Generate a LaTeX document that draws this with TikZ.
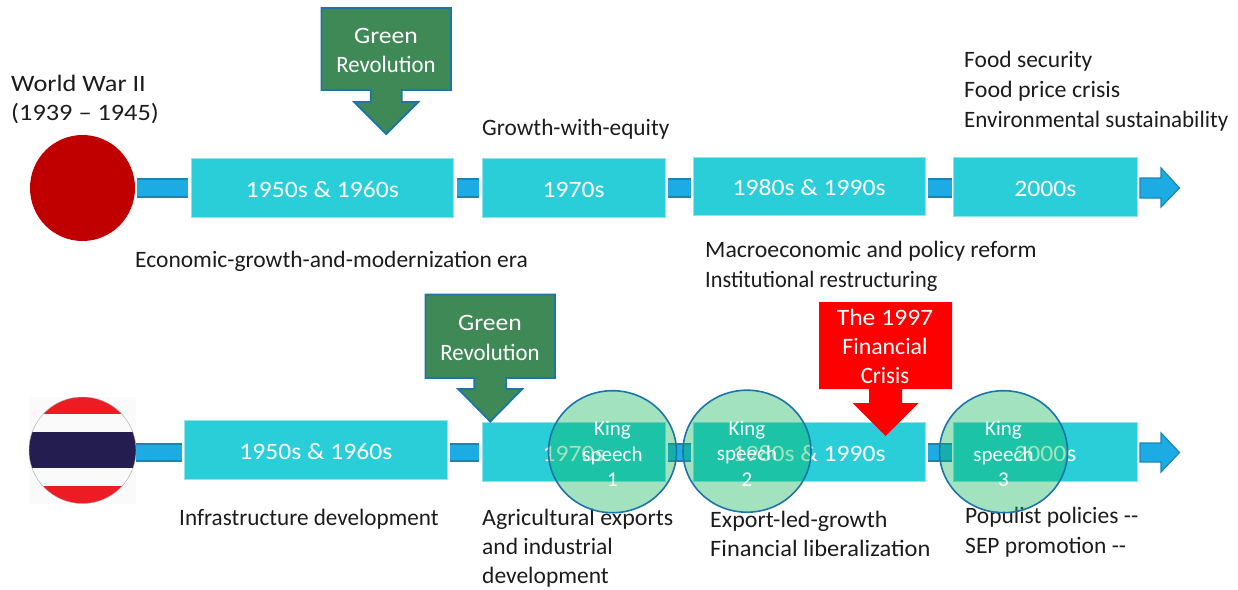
\documentclass[tikz,border=0pt]{standalone}
\usepackage{fontspec}
\usepackage{graphicx}
\setmainfont{Carlito}
\newfontfamily\yearfont[FakeStretch=1.09]{Carlito}
\newfontfamily\widefont[FakeStretch=1.12]{Carlito}
\usetikzlibrary{shapes.geometric}
\definecolor{barfill}{HTML}{1CACE3}
\definecolor{barline}{HTML}{1A85B5}
\definecolor{boxfill}{HTML}{29CED9}
\definecolor{boxedge}{HTML}{8FE6EA}
\definecolor{greenfill}{HTML}{3F8956}
\definecolor{calledge}{HTML}{1B75A8}
\definecolor{inkc}{HTML}{1C1C1C}
\definecolor{flagred}{HTML}{ED1C24}
\definecolor{flagwhite}{HTML}{FAFAFA}
\definecolor{flagnavy}{HTML}{241D4F}
\definecolor{speechfill}{RGB}{10,179,87}
\newcommand{\txtsize}{\fontsize{23.5}{29}\selectfont}
\newcommand{\sx}[2]{\scalebox{#1}[1]{#2}}
\newcommand{\calloutshape}[9]{%
  \path[#9] (#1,#3) -- (#2,#3) -- (#2,#4)
    -- ({(#1+#2)/2+#5},#4) -- ({(#1+#2)/2+#5},#7) -- ({(#1+#2)/2+#6},#7)
    -- ({(#1+#2)/2},#8)
    -- ({(#1+#2)/2-#6},#7) -- ({(#1+#2)/2-#5},#7) -- ({(#1+#2)/2-#5},#4)
    -- (#1,#4) -- cycle;}
\tikzset{
  lbl/.style={anchor=base west,inner sep=0pt,text=inkc,font=\txtsize},
  widelbl/.style={lbl,font=\widefont\txtsize},
  wlbl/.style={anchor=base,inner sep=0pt,text=white,font=\yearfont\txtsize},
  yearbox/.style={rectangle,fill=boxfill,draw=boxedge,line width=.7pt,inner sep=0pt,
    text=white,font=\yearfont\txtsize,text height=18pt,text depth=0pt,anchor=center},
  seg/.style={fill=barfill},
  segline/.style={draw=barline,line width=2pt},
  greencall/.style={fill=greenfill,draw=calledge,line width=1.8pt,line join=miter},
  redcall/.style={fill=red},
  speech/.style={ellipse,inner sep=0pt,minimum width=128pt,minimum height=122pt,
    draw=calledge,line width=1.6pt,fill=speechfill,fill opacity=.38,draw opacity=1,
    text opacity=1,text=white,align=center,
    font=\fontsize{21}{25.5}\selectfont}
}
\begin{document}
\begin{tikzpicture}[x=1pt,y=-1pt]
\useasboundingbox (0,0) rectangle (1238,589);

% ---- top timeline ----
\foreach \a/\b in {137/188,456.5/479,668/691,928/952}{
  \fill[seg] (\a,178) rectangle (\b,198);
  \draw[segline] (\a,179) -- (\b,179);
  \draw[segline] (\a,197) -- (\b,197);
}
\path[fill=barfill,draw=barline,line width=1.2pt]
  (1140,178) -- (1161,178) -- (1161,168) -- (1179.5,188) -- (1161,207) -- (1161,198) -- (1140,198) -- cycle;

\fill[fill={rgb,255:red,192;green,0;blue,0}] (82.5,188) ellipse [x radius=52.5,y radius=53];

\node[yearbox,minimum width=262.3pt,minimum height=59.5pt] (t1) at (322.3,188) {1950s \& 1960s};
\node[yearbox,minimum width=183.3pt,minimum height=59.5pt] (t2) at (573.7,188) {1970s};
\node[yearbox,minimum width=232.3pt,minimum height=58.5pt] (t3) at (809.2,186.5) {1980s \& 1990s};
\node[yearbox,minimum width=183.3pt,minimum height=59pt] (t4) at (1045.3,187.25) {2000s};

\calloutshape{321.5}{451}{8}{90}{15.5}{32}{102}{134}{greencall}
\node[wlbl] (tg1) at (386,43.5) {Green};
\node[wlbl] (tg2) at (386,72.5) {\sx{.89}{Revolution}};

\node[widelbl] (ww1) at (11,91.5) {World War II};
\node[widelbl] (ww2) at (11,120.5) {(1939 – 1945)};
\node[lbl] (gwe) at (482,135.5) {\sx{.99}{Growth-with-equity}};
\node[lbl] (fs1) at (964,67.5) {Food security};
\node[lbl] (fs2) at (964,97) {\sx{1.02}{Food price crisis}};
\node[lbl] (fs3) at (964,127) {\sx{.98}{Environmental sustainability}};
\node[lbl] (egm) at (135,267.5) {Economic-growth-and-modernization era};
\node[lbl] (mac) at (705,257.5) {\sx{1.012}{Macroeconomic and policy reform}};
\node[lbl] (ins) at (705,287.5) {\sx{.95}{Institutional restructuring}};

% ---- bottom timeline ----
\foreach \a/\b in {136/182,450/479,668/691,928/952}{
  \fill[seg] (\a,443) rectangle (\b,462);
  \draw[segline] (\a,444) -- (\b,444);
  \draw[segline] (\a,461) -- (\b,461);
}
\path[fill=barfill,draw=barline,line width=1.2pt]
  (1140,443) -- (1161,443) -- (1161,433) -- (1179.5,452.5) -- (1161,472) -- (1161,462) -- (1140,462) -- cycle;

% flag
\fill[flagwhite] (29,397) rectangle (136,503.5);
\begin{scope}
  \clip (82.5,450.25) ellipse [x radius=53.5,y radius=53.25];
  \fill[flagred] (29,397) rectangle (136,414);
  \fill[flagwhite] (29,414) rectangle (136,432);
  \fill[flagnavy] (29,432) rectangle (136,468);
  \fill[flagwhite] (29,468) rectangle (136,486);
  \fill[flagred] (29,486) rectangle (136,503.5);
\end{scope}
\draw[gray!70,line width=.4pt] (82.5,450.25) ellipse [x radius=53.5,y radius=53.25];

\node[yearbox,minimum width=263.3pt,minimum height=59.5pt] (b1) at (315.8,450) {1950s \& 1960s};
\node[yearbox,minimum width=183.3pt,minimum height=59.5pt] (b2) at (573.7,452) {1970s};
\node[yearbox,minimum width=232.3pt,minimum height=59.5pt] (b3) at (809.2,452) {1980s \& 1990s};
\node[yearbox,minimum width=183.3pt,minimum height=59.5pt] (b4) at (1045.3,452) {2000s};

\calloutshape{425.5}{555}{294.5}{378}{16}{32}{389}{421.5}{greencall}
\node[wlbl] (bg1) at (490,330.5) {Green};
\node[wlbl] (bg2) at (490,360.5) {\sx{.89}{Revolution}};

\calloutshape{819}{952}{302}{389}{16.5}{33}{403}{436}{redcall}
\node[wlbl] (rc1) at (885,325.5) {The 1997};
\node[wlbl] (rc2) at (885,354.5) {\sx{.93}{Financial}};
\node[wlbl] (rc3) at (885,383.5) {\sx{.89}{Crisis}};

\node[lbl] (inf) at (179,525.5) {\sx{.985}{Infrastructure development}};
\node[lbl] (ag1) at (482,525.5) {\sx{1.02}{Agricultural exports}};
\node[lbl] (ag2) at (482,554.5) {and industrial};
\node[lbl] (ag3) at (482,583.5) {development};
\node[lbl] (ex1) at (710,527.5) {\sx{1.02}{Export-led-growth}};
\node[lbl] (ex2) at (710,556.5) {\sx{1.04}{Financial liberalization}};
\node[lbl] (pp1) at (965,523.5) {Populist policies {-}{-}};
\node[lbl] (pp2) at (965,553) {SEP promotion {-}{-}};

\node[speech] (k1) at (612.5,451.7) {\rule{0pt}{19pt}King\\speech\\1};
\node[speech] (k2) at (747,451.2) {\rule{0pt}{19pt}King\\speech\\2};
\node[speech] (k3) at (1003.5,451.7) {\rule{0pt}{19pt}King\\speech\\3};
\end{tikzpicture}
\end{document}
